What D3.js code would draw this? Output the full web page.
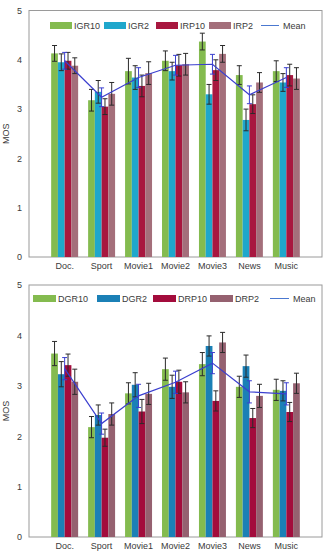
<!DOCTYPE html>
<html>
<head>
<meta charset="utf-8">
<script src="https://cdn.jsdelivr.net/npm/d3@7"></script>
<style>
  body { margin: 0; background: #fff; }
  svg { display: block; font-family: "Liberation Sans", Arial, sans-serif; }
</style>
</head>
<body>
<svg id="chart" width="326" height="554"></svg>
<script>
const categories = ["Doc.", "Sport", "Movie1", "Movie2", "Movie3", "News", "Music"]
const yTicks = [0, 1, 2, 3, 4, 5]

// upper chart
const topSeries = ["IGR10", "IGR2", "IRP10", "IRP2"]
const topColors = ["#84bb4f", "#1fa7cc", "#a8173f", "#a46f7b"]
const topValues = [
    [4.13, 3.95, 3.98, 3.88],
    [3.18, 3.35, 3.05, 3.31],
    [3.77, 3.64, 3.47, 3.73],
    [3.98, 3.77, 3.89, 3.91],
    [4.37, 3.30, 3.79, 4.12],
    [3.69, 2.78, 3.10, 3.54],
    [3.77, 3.54, 3.69, 3.62]
]
const topErrors = [
    [0.16, 0.17, 0.17, 0.16],
    [0.22, 0.23, 0.16, 0.23],
    [0.26, 0.24, 0.22, 0.23],
    [0.20, 0.18, 0.22, 0.22],
    [0.17, 0.20, 0.21, 0.17],
    [0.19, 0.22, 0.19, 0.20],
    [0.21, 0.18, 0.22, 0.22]
]
const topMean = [3.98, 3.24, 3.64, 3.89, 3.91, 3.29, 3.64]
const topMeanErr = [0.17, 0.19, 0.20, 0.20, 0.20, 0.18, 0.20]

// lower chart
const botSeries = ["DGR10", "DGR2", "DRP10", "DRP2"]
const botColors = ["#84bb4f", "#1b80b6", "#a30c3c", "#956170"]
const botValues = [
    [3.64, 3.23, 3.41, 3.08],
    [2.18, 2.42, 1.97, 2.44],
    [2.85, 3.02, 2.49, 2.84],
    [3.33, 2.98, 3.08, 2.87],
    [3.43, 3.79, 2.70, 3.86],
    [2.98, 3.39, 2.36, 2.80],
    [2.92, 2.90, 2.48, 3.05]
]
const botErrors = [
    [0.24, 0.25, 0.22, 0.25],
    [0.21, 0.20, 0.17, 0.22],
    [0.21, 0.24, 0.24, 0.21],
    [0.22, 0.23, 0.23, 0.21],
    [0.23, 0.20, 0.20, 0.20],
    [0.21, 0.22, 0.19, 0.23],
    [0.21, 0.20, 0.19, 0.20]
]
const botMean = [3.34, 2.25, 2.80, 3.07, 3.45, 2.88, 2.84]
const botMeanErr = [0.22, 0.21, 0.23, 0.22, 0.21, 0.22, 0.22]

const svg = d3.select("#chart")
const meanColor = "#3b3fcf"
const textColor = "#3a3a3a"

function drawChart(cfg) {
    const g = svg.append("g")

    const x = d3.scaleBand()
        .domain(categories)
        .range([cfg.left, cfg.right])
        .paddingInner(0.27)
        .paddingOuter(0.6)

    const xs = d3.scaleBand()
        .domain(cfg.series)
        .range([0, x.bandwidth()])

    const y = d3.scaleLinear()
        .domain([0, 5])
        .range([cfg.bottom, cfg.top])

    // frame
    g.append("rect")
        .attr("x", cfg.left).attr("y", cfg.top)
        .attr("width", cfg.right - cfg.left).attr("height", cfg.bottom - cfg.top)
        .attr("fill", "none").attr("stroke", "#9a9a9a").attr("stroke-width", 1)

    // y axis labels, no tick marks
    const yAxis = d3.axisLeft(y).tickValues(yTicks).tickFormat(d3.format("d")).tickSize(0).tickPadding(7)
    const ya = g.append("g").attr("transform", "translate(" + cfg.left + ",0)").call(yAxis)
    ya.select(".domain").remove()
    ya.selectAll("text").attr("font-size", 9).attr("fill", textColor).attr("font-family", "Liberation Sans, Arial, sans-serif")

    const xAxis = d3.axisBottom(x).tickSize(0).tickPadding(6)
    const xa = g.append("g").attr("transform", "translate(0," + cfg.bottom + ")").call(xAxis)
    xa.select(".domain").remove()
    xa.selectAll("text").attr("font-size", 9).attr("fill", textColor).attr("font-family", "Liberation Sans, Arial, sans-serif")

    g.append("text")
        .attr("transform", "translate(9," + ((cfg.top + cfg.bottom) / 2) + ") rotate(-90)")
        .attr("text-anchor", "middle")
        .attr("font-size", 9).attr("fill", textColor)
        .text("MOS")

    // bars
    const groups = g.selectAll(".grp")
        .data(categories)
        .enter().append("g")
        .attr("class", "grp")
        .attr("transform", function (d) { return "translate(" + x(d) + ",0)" })

    groups.each(function (c, ci) {
        const gg = d3.select(this)
        cfg.series.forEach(function (s, si) {
            const v = cfg.values[ci][si]
            const e = cfg.errors[ci][si]
            const bx = xs(s)
            gg.append("rect")
                .attr("x", bx).attr("y", y(v))
                .attr("width", xs.bandwidth()).attr("height", y(0) - y(v))
                .attr("fill", cfg.colors[si])
            const cx = bx + xs.bandwidth() / 2
            const eb = gg.append("g").attr("stroke", "#2b2b2b").attr("stroke-width", 1)
            eb.append("line").attr("x1", cx).attr("x2", cx).attr("y1", y(v - e)).attr("y2", y(v + e))
            eb.append("line").attr("x1", cx - 2.5).attr("x2", cx + 2.5).attr("y1", y(v - e)).attr("y2", y(v - e))
            eb.append("line").attr("x1", cx - 2.5).attr("x2", cx + 2.5).attr("y1", y(v + e)).attr("y2", y(v + e))
        })
    })

    // mean line and its error bars
    const line = d3.line()
        .x(function (d, i) { return x(categories[i]) + x.bandwidth() / 2 })
        .y(function (d) { return y(d) })

    g.append("path")
        .datum(cfg.mean)
        .attr("d", line)
        .attr("fill", "none")
        .attr("stroke", meanColor)
        .attr("stroke-width", 1.2)

    cfg.mean.forEach(function (m, i) {
        const cx = x(categories[i]) + x.bandwidth() / 2
        const e = cfg.meanErr[i]
        const eb = g.append("g").attr("stroke", meanColor).attr("stroke-width", 1)
        eb.append("line").attr("x1", cx).attr("x2", cx).attr("y1", y(m - e)).attr("y2", y(m + e))
        eb.append("line").attr("x1", cx - 2.5).attr("x2", cx + 2.5).attr("y1", y(m - e)).attr("y2", y(m - e))
        eb.append("line").attr("x1", cx - 2.5).attr("x2", cx + 2.5).attr("y1", y(m + e)).attr("y2", y(m + e))
    })

    // legend
    const lg = g.append("g").attr("font-size", 9).attr("fill", textColor)
    cfg.series.forEach(function (s, i) {
        const lx = cfg.legendX[i]
        lg.append("rect")
            .attr("x", lx).attr("y", cfg.legendY - 3.5)
            .attr("width", cfg.swatchW).attr("height", 7)
            .attr("fill", cfg.colors[i])
        lg.append("text")
            .attr("x", lx + cfg.swatchW + 2).attr("y", cfg.legendY + 3.2)
            .text(s)
    })
    const mx = cfg.legendX[4]
    lg.append("line")
        .attr("x1", mx).attr("x2", mx + cfg.meanW)
        .attr("y1", cfg.legendY).attr("y2", cfg.legendY)
        .attr("stroke", "#4a78d0").attr("stroke-width", 1)
    lg.append("text")
        .attr("x", mx + cfg.meanW + 4).attr("y", cfg.legendY + 3.2)
        .text("Mean")
}

drawChart({
    left: 29, right: 322, top: 10.5, bottom: 257,
    series: topSeries, colors: topColors,
    values: topValues, errors: topErrors,
    mean: topMean, meanErr: topMeanErr,
    legendY: 25.5, legendX: [50, 104, 156, 209, 261], swatchW: 22, meanW: 18
})

drawChart({
    left: 29, right: 322, top: 285, bottom: 537,
    series: botSeries, colors: botColors,
    values: botValues, errors: botErrors,
    mean: botMean, meanErr: botMeanErr,
    legendY: 298.5, legendX: [33, 97, 153, 210, 270], swatchW: 23, meanW: 19
})
</script>
</body>
</html>
